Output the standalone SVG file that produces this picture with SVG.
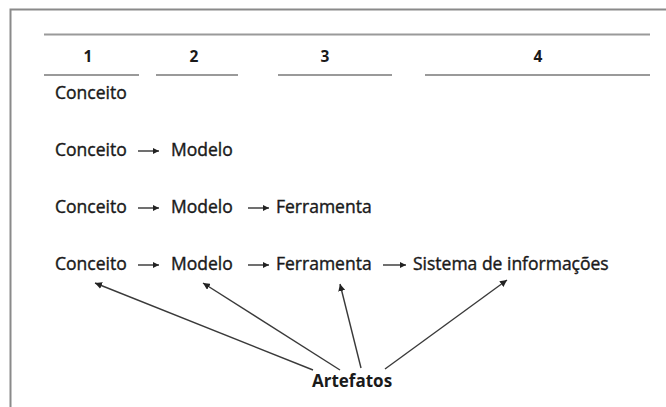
<svg xmlns="http://www.w3.org/2000/svg" width="666" height="407" viewBox="0 0 666 407">
<defs>
<marker id="ah" viewBox="0 0 10 10" refX="10" refY="5" markerWidth="7" markerHeight="7" markerUnits="userSpaceOnUse" orient="auto">
<path d="M0,0 L10,5 L0,10 Z" fill="#222"/>
</marker>
<marker id="hh" viewBox="0 0 10 10" refX="10" refY="5" markerWidth="7" markerHeight="6" markerUnits="userSpaceOnUse" orient="auto">
<path d="M0,0 L10,5 L0,10 Z" fill="#222"/>
</marker>
</defs>
<style>
.t{font-family:"Open Sans","Noto Sans","Liberation Sans",sans-serif;font-size:17.5px;fill:#1a1a1a;stroke:#1a1a1a;stroke-width:0.4}
.n{font-family:"Open Sans","Noto Sans","Liberation Sans",sans-serif;font-size:15.5px;font-weight:bold;fill:#1a1a1a;text-anchor:middle}
.b{font-family:"Open Sans","Noto Sans","Liberation Sans",sans-serif;font-size:17px;font-weight:bold;fill:#1a1a1a}
.rule{stroke:#9a9a9a;stroke-width:2;fill:none}
.h{stroke:#222;stroke-width:1.3;fill:none;marker-end:url(#hh)}
.c{stroke:#3a3a3a;stroke-width:1.4;fill:none;marker-end:url(#ah)}
</style>
<rect width="666" height="407" fill="#ffffff"/>
<path d="M10.5,407 V9.5 H666" fill="none" stroke="#8a8a8a" stroke-width="2"/>
<g id="header">
<line class="rule" x1="44" y1="34.5" x2="650" y2="34.5"/>
<line class="rule" x1="44" y1="75" x2="139" y2="75"/>
<line class="rule" x1="156" y1="75" x2="238" y2="75"/>
<line class="rule" x1="278" y1="75" x2="392" y2="75"/>
<line class="rule" x1="425" y1="75" x2="650" y2="75"/>
<text class="n" x="88" y="62">1</text>
<text class="n" x="194" y="62">2</text>
<text class="n" x="325" y="62">3</text>
<text class="n" x="538" y="62">4</text>
</g>
<g id="row1">
<text class="t" x="55" y="99">Conceito</text>
</g>
<g id="row2">
<text class="t" x="55" y="156">Conceito</text>
<text class="t" x="171" y="156">Modelo</text>
</g>
<g id="row3">
<text class="t" x="55" y="213">Conceito</text>
<text class="t" x="171" y="213">Modelo</text>
<text class="t" x="276" y="213">Ferramenta</text>
</g>
<g id="row4">
<text class="t" x="55" y="270">Conceito</text>
<text class="t" x="171" y="270">Modelo</text>
<text class="t" x="276" y="270">Ferramenta</text>
<text class="t" x="413" y="270">Sistema de informações</text>
</g>
<g id="artefatos">
<text class="b" x="312" y="387">Artefatos</text>
</g>
<g id="connectors">
<line class="h" x1="138" y1="151" x2="159" y2="151"/>
<line class="h" x1="138" y1="208" x2="159" y2="208"/>
<line class="h" x1="248" y1="208" x2="269" y2="208"/>
<line class="h" x1="138" y1="265" x2="159" y2="265"/>
<line class="h" x1="248" y1="265" x2="269" y2="265"/>
<line class="h" x1="383" y1="265" x2="406" y2="265"/>
<line class="c" x1="313" y1="370" x2="95" y2="283"/>
<line class="c" x1="340" y1="370" x2="203" y2="283"/>
<line class="c" x1="361" y1="368" x2="340" y2="284"/>
<line class="c" x1="385" y1="369" x2="507" y2="280"/>
</g>
</svg>
